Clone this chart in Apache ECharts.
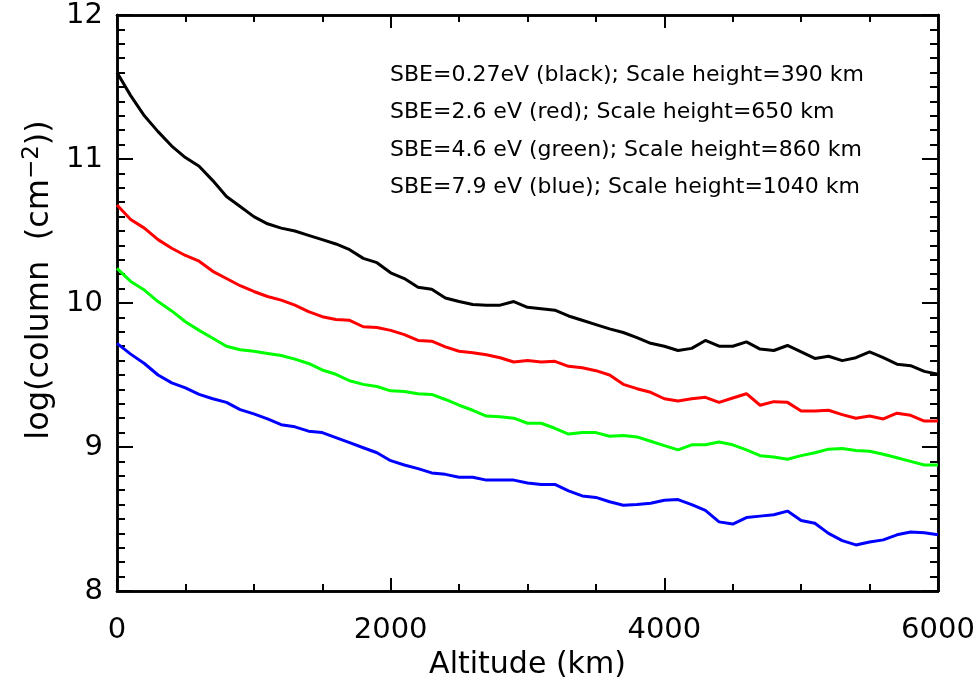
<!DOCTYPE html>
<html>
<head>
<meta charset="utf-8">
<script src="https://cdn.jsdelivr.net/npm/echarts@6/dist/echarts.min.js"></script>
<style>
  html, body { margin: 0; padding: 0; background: #fff; }
  #chart { width: 979px; height: 687px; }
</style>
</head>
<body>
<div id="chart"></div>
<script>
// altitude grid (km)
var altitude = [0, 100, 200, 300, 400, 500, 600, 700, 800, 900,
    1000, 1100, 1200, 1300, 1400, 1500, 1600, 1700, 1800, 1900,
    2000, 2100, 2200, 2300, 2400, 2500, 2600, 2700, 2800, 2900,
    3000, 3100, 3200, 3300, 3400, 3500, 3600, 3700, 3800, 3900,
    4000, 4100, 4200, 4300, 4400, 4500, 4600, 4700, 4800, 4900,
    5000, 5100, 5200, 5300, 5400, 5500, 5600, 5700, 5800, 5900, 6000];

// log(column) for each SBE
var black = [11.60, 11.44, 11.30, 11.19, 11.09, 11.01, 10.95, 10.85, 10.74, 10.67,
    10.60, 10.55, 10.52, 10.50, 10.47, 10.44, 10.41, 10.37, 10.31, 10.28,
    10.21, 10.17, 10.11, 10.095, 10.035, 10.01, 9.99, 9.985, 9.985, 10.01,
    9.97, 9.96, 9.95, 9.91, 9.88, 9.85, 9.82, 9.795, 9.76, 9.72,
    9.70, 9.67, 9.685, 9.74, 9.70, 9.70, 9.73, 9.68, 9.67, 9.705,
    9.66, 9.615, 9.63, 9.60, 9.62, 9.66, 9.62, 9.575, 9.565, 9.525, 9.505];
var red = [10.68, 10.58, 10.52, 10.44, 10.38, 10.33, 10.29, 10.22, 10.17, 10.12,
    10.08, 10.045, 10.02, 9.985, 9.94, 9.905, 9.885, 9.88, 9.835, 9.83,
    9.81, 9.78, 9.74, 9.735, 9.695, 9.665, 9.655, 9.64, 9.62, 9.59,
    9.60, 9.59, 9.595, 9.56, 9.55, 9.53, 9.50, 9.435, 9.405, 9.38,
    9.335, 9.32, 9.335, 9.345, 9.31, 9.34, 9.37, 9.29, 9.315, 9.31,
    9.25, 9.25, 9.255, 9.225, 9.20, 9.215, 9.195, 9.235, 9.22, 9.18, 9.18];
var green = [10.24, 10.15, 10.09, 10.01, 9.945, 9.87, 9.81, 9.755, 9.70, 9.675,
    9.665, 9.65, 9.635, 9.61, 9.58, 9.535, 9.505, 9.46, 9.435, 9.42,
    9.39, 9.385, 9.37, 9.365, 9.33, 9.29, 9.255, 9.215, 9.21, 9.20,
    9.165, 9.165, 9.13, 9.09, 9.10, 9.10, 9.075, 9.08, 9.07, 9.04,
    9.01, 8.98, 9.015, 9.015, 9.035, 9.015, 8.98, 8.94, 8.93, 8.915,
    8.94, 8.96, 8.985, 8.99, 8.975, 8.97, 8.95, 8.925, 8.90, 8.875, 8.875];
var blue = [9.72, 9.645, 9.58, 9.50, 9.445, 9.41, 9.365, 9.335, 9.31, 9.26,
    9.23, 9.195, 9.155, 9.14, 9.11, 9.10, 9.065, 9.03, 8.995, 8.96,
    8.905, 8.875, 8.85, 8.82, 8.81, 8.79, 8.79, 8.77, 8.77, 8.77,
    8.75, 8.74, 8.74, 8.695, 8.66, 8.65, 8.62, 8.595, 8.60, 8.61,
    8.63, 8.635, 8.60, 8.56, 8.48, 8.465, 8.51, 8.52, 8.53, 8.555,
    8.49, 8.47, 8.40, 8.35, 8.32, 8.34, 8.355, 8.39, 8.41, 8.405, 8.39];

var notes = [
    'SBE=0.27eV (black); Scale height=390 km',
    'SBE=2.6 eV (red); Scale height=650 km',
    'SBE=4.6 eV (green); Scale height=860 km',
    'SBE=7.9 eV (blue); Scale height=1040 km'
];

function pairs(vals) {
    return altitude.map(function (a, i) { return [a, vals[i]]; });
}

var chart = echarts.init(document.getElementById('chart'));
var font = 'DejaVu Sans';

// IDL style frame: ticks point inwards on all four sides.
// major and minor ticks are drawn by separate, overlapping axes
function xAx(pos, step, len, labels) {
    return {
        type: 'value', position: pos, min: 0, max: 6000, interval: step,
        name: labels ? 'Altitude (km)' : '', nameLocation: 'middle', nameGap: 56,
        nameTextStyle: { fontFamily: font, fontSize: 30, color: '#000' },
        axisLine: { onZero: false, lineStyle: { color: '#000', width: 2.5 } },
        axisTick: { inside: true, length: len, lineStyle: { color: '#000', width: 2 } },
        axisLabel: {
            show: labels, margin: 25, fontFamily: font, fontSize: 29, color: '#000',
            formatter: function (v) { return String(v); }
        },
        splitLine: { show: false }
    };
}
function yAx(pos, step, len, labels) {
    return {
        type: 'value', position: pos, min: 8, max: 12, interval: step,
        name: labels ? 'log(column  (cm{sup|−2}))' : '', nameLocation: 'middle', nameGap: 58,
        nameTextStyle: {
            fontFamily: font, fontSize: 32, color: '#000', padding: [0, 0, 0, 46],
            rich: { sup: { fontFamily: font, fontSize: 23, color: '#000', verticalAlign: 'top', padding: [0, 0, 14, 0] } }
        },
        axisLine: { onZero: false, lineStyle: { color: '#000', width: 2.5 } },
        axisTick: { inside: true, length: len, lineStyle: { color: '#000', width: 2 } },
        axisLabel: {
            show: labels, margin: 14, fontFamily: font, fontSize: 29, color: '#000',
            formatter: function (v) { return String(Math.round(v)); }
        },
        splitLine: { show: false }
    };
}

function line(name, vals, color) {
    return {
        name: name, type: 'line', data: pairs(vals),
        showSymbol: false, symbol: 'none',
        lineStyle: { color: color, width: 3 },
        itemStyle: { color: color },
        animation: false
    };
}

var option = {
    backgroundColor: '#fff',
    animation: false,
    grid: { left: 117, right: 41, top: 15, bottom: 96 },
    xAxis: [
        xAx('bottom', 2000, 13, true), xAx('bottom', 500, 7, false),
        xAx('top', 2000, 13, false), xAx('top', 500, 7, false)
    ],
    yAxis: [
        yAx('left', 1, 16, true), yAx('left', 0.1, 8, false),
        yAx('right', 1, 16, false), yAx('right', 0.1, 8, false)
    ],
    graphic: notes.map(function (t, i) {
        return {
            type: 'text', left: 390, top: 64 + i * 37.5,
            style: { text: t, fontFamily: font, fontSize: 22, fill: '#000' }
        };
    }),
    series: [
        line('black', black, '#000000'),
        line('red', red, '#ff0000'),
        line('green', green, '#00ff00'),
        line('blue', blue, '#0000ff')
    ]
};
chart.setOption(option);
</script>
</body>
</html>
